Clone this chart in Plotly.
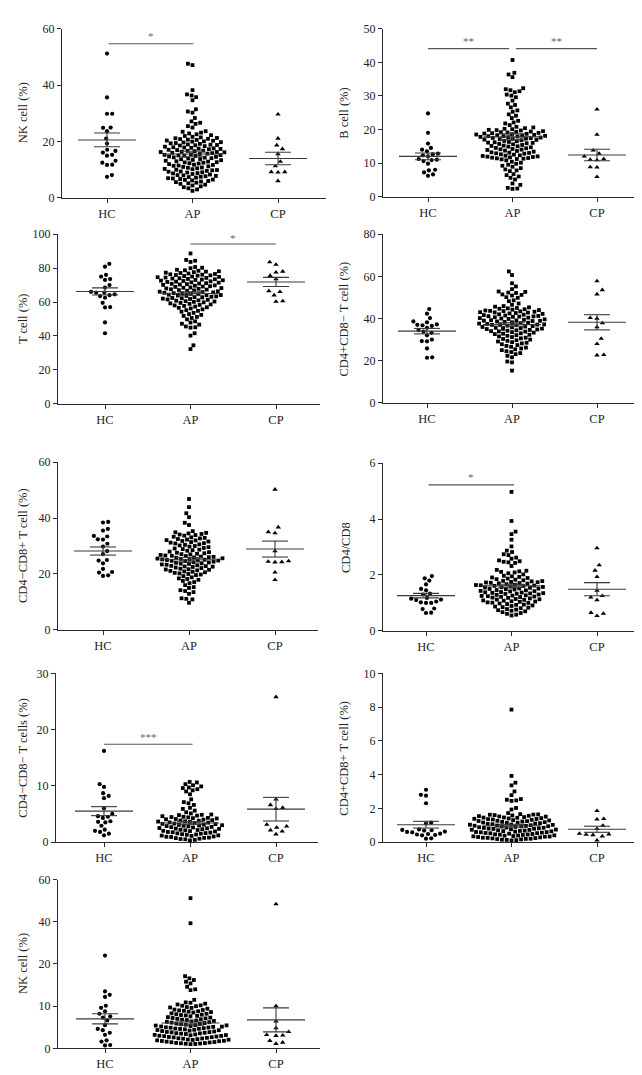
import numpy as np
import plotly.graph_objects as go

W, H = 642, 1075
groups = ["HC", "AP", "CP"]

# ---------------- data ----------------
nk_hc = [51.2, 35.6, 29.8, 29.8, 24.9, 24.8, 23.6, 21.0, 19.2, 17.0, 16.6, 16.0, 15.2, 14.9, 13.1, 12.4, 11.7, 11.6, 8.0, 7.4]
nk_ap = [47.6, 47.1, 38.2, 36.7, 36.3, 35.7, 34.6, 31.4, 30.6, 30.2, 28.3, 27.1, 26.6, 26.2, 25.4, 24.9,
         23.6, 23.4, 23.1, 22.8, 22.5, 22.2, 21.9, 21.6,
         21.4, 21.2, 21.1, 20.9, 20.8, 20.6, 20.5, 20.3, 20.2, 20.0,
         19.9, 19.7, 19.6, 19.4, 19.3, 19.1, 18.9, 18.8, 18.7,
         18.6, 18.5, 18.3, 18.1, 17.9, 17.8, 17.7, 17.5, 17.4,
         17.3, 17.2, 17.0, 16.9, 16.7, 16.6, 16.5, 16.3, 16.2, 16.2,
         16.1, 15.9, 15.8, 15.6, 15.5, 15.4, 15.2, 15.1, 14.9, 15.0,
         14.8, 14.6, 14.5, 14.3, 14.2, 14.0, 13.9, 13.7, 13.6,
         13.4, 13.3, 13.1, 12.9, 12.8, 12.6, 12.5, 12.4,
         12.2, 12.1, 11.9, 11.7, 11.6, 11.4, 11.3, 11.1,
         10.9, 10.7, 10.6, 10.4, 10.2, 10.1, 9.9, 9.8,
         9.7, 9.5, 9.3, 9.2, 9.0, 8.9, 8.7, 8.6,
         8.4, 8.2, 8.0, 7.9, 7.7, 7.6, 7.4, 7.3,
         7.1, 6.9, 6.8, 6.6, 6.4, 6.3, 6.1,
         5.9, 5.7, 5.5, 5.3, 5.1, 4.9, 4.6, 4.3, 4.0, 3.7, 3.3, 2.9, 2.4]
nk_cp = [29.6, 21.0, 18.6, 17.3, 15.5, 12.8, 11.2, 9.1, 9.1, 9.0, 5.9]
nk_mean = [20.5, 15.5, 13.9]
nk_sem = [2.45, 1.0, 2.2]

b_hc = [24.8, 19.0, 15.8, 14.5, 14.0, 13.5, 12.8, 12.6, 12.3, 12.0, 11.2, 11.0, 10.9, 10.6, 9.8, 8.0, 7.8, 7.2, 6.6, 6.2]
b_ap = [40.7, 36.9, 36.4, 35.6, 32.3, 32.0, 31.7, 31.4, 31.1, 30.4, 30.1, 29.6, 28.6, 27.7, 27.3, 26.6, 25.7,
        25.3, 24.5, 24.1, 23.4, 22.6, 22.1, 21.8, 21.3,
        20.8, 20.6, 20.4, 20.2, 20.1,
        19.9, 19.8, 19.7, 19.5, 19.4, 19.3, 19.2, 19.1, 19.0,
        18.9, 18.8, 18.7, 18.6, 18.5, 18.4, 18.3, 18.2, 18.1, 18.0, 18.0,
        17.9, 17.8, 17.7, 17.6, 17.5, 17.4, 17.3, 17.2, 17.1, 17.0,
        16.9, 16.8, 16.6, 16.5, 16.3, 16.2, 16.1, 16.0,
        15.9, 15.7, 15.6, 15.4, 15.2, 15.1, 15.0,
        14.9, 14.7, 14.5, 14.4, 14.2, 14.1, 14.0,
        13.9, 13.7, 13.6, 13.4, 13.2, 13.1, 13.0,
        12.9, 12.8, 12.6, 12.5, 12.3, 12.2, 12.1, 12.0,
        11.9, 11.8, 11.7, 11.6, 11.5, 11.4, 11.3, 11.2, 11.1,
        10.8, 10.4, 10.1, 9.8, 9.5, 9.2, 8.9, 8.5, 8.1, 7.8, 7.6, 6.7, 6.4, 6.0, 5.6, 5.1,
        3.9, 3.5, 2.6, 2.4, 2.3]
b_cp = [26.0, 18.5, 13.8, 12.8, 12.0, 11.2, 11.0, 10.9, 8.8, 8.7, 5.9]
b_mean = [12.0, 17.8, 12.4]
b_sem = [1.0, 0.9, 1.7]

t_hc = [82.5, 80.8, 76.0, 75.0, 73.5, 73.0, 70.0, 68.5, 66.0, 65.5, 65.5, 64.5, 64.0, 63.5, 62.5, 59.5, 57.0, 56.8, 48.0, 41.6]
t_ap = [88.6, 84.8, 84.3, 83.6, 80.6, 80.2, 79.9, 79.0, 78.7, 78.4, 78.1,
        77.9, 77.6, 77.3, 77.1, 76.8, 76.5, 76.3, 76.1,
        75.9, 75.7, 75.5, 75.3, 75.0, 74.8, 74.6, 74.4, 74.2, 74.0,
        73.8, 73.6, 73.4, 73.2, 73.0, 72.8, 72.6, 72.4, 72.2, 72.0,
        71.8, 71.6, 71.4, 71.1, 70.9, 70.7, 70.5, 70.3, 70.1,
        69.8, 69.6, 69.3, 69.1, 68.9, 68.6, 68.4, 68.2, 68.0,
        67.8, 67.5, 67.3, 67.0, 66.8, 66.6, 66.3, 66.1,
        65.9, 65.7, 65.4, 65.2, 65.0, 64.8, 64.6, 64.3, 64.1, 64.0,
        63.8, 63.6, 63.3, 63.1, 62.9, 62.7, 62.4, 62.2, 62.0,
        61.8, 61.5, 61.3, 61.0, 60.8, 60.5, 60.3, 60.1,
        59.8, 59.5, 59.2, 58.9, 58.6, 58.3, 58.0,
        57.7, 57.3, 56.9, 56.6, 56.2, 55.7, 55.2, 54.8, 54.3,
        53.6, 52.9, 52.4, 51.8, 51.2, 50.6, 49.8, 48.6, 47.9, 47.2, 46.7, 45.6, 45.1, 44.9,
        41.6, 40.2, 34.5, 32.3]
t_cp = [83.5, 82.0, 78.0, 77.5, 75.5, 73.5, 66.5, 66.0, 64.0, 60.5, 60.2]
t_mean = [66.2, 65.0, 71.8]
t_sem = [2.1, 1.0, 2.7]

cd4_hc = [44.5, 42.3, 40.2, 38.6, 38.2, 37.2, 37.0, 36.8, 36.5, 35.6, 34.5, 33.8, 33.2, 32.0, 30.0, 29.3, 29.2, 25.8, 21.6, 21.4]
cd4_ap = [62.3, 60.6, 56.7, 55.2, 53.9, 52.8, 52.6, 52.3, 52.1, 51.4, 51.2, 50.9, 50.1, 49.8, 48.6, 48.2, 47.1, 46.5,
          45.9, 45.6, 45.3, 45.0, 44.8, 44.6, 44.4, 44.2, 44.0,
          43.8, 43.6, 43.5, 43.4, 43.2, 43.0, 42.9, 42.8, 42.6, 42.4, 42.2, 42.0,
          41.8, 41.6, 41.4, 41.2, 41.1, 41.0, 40.9, 40.8, 40.6, 40.4, 40.2, 40.0,
          39.8, 39.6, 39.4, 39.2, 39.1, 39.0, 38.9, 38.8, 38.6, 38.4, 38.2, 38.0,
          37.8, 37.6, 37.4, 37.2, 37.1, 37.0, 36.9, 36.8, 36.6, 36.4, 36.2, 36.0,
          35.8, 35.6, 35.4, 35.2, 35.1, 35.0, 34.8, 34.6, 34.4, 34.2, 34.0,
          33.9, 33.8, 33.5, 33.3, 33.0, 32.8, 32.6, 32.3, 32.1,
          31.8, 31.5, 31.2, 30.9, 30.6, 30.3, 30.0,
          29.7, 29.4, 29.1, 28.8, 28.5, 28.2,
          27.8, 27.4, 27.0, 26.6, 26.2,
          25.8, 25.4, 25.0, 24.5, 24.1, 23.6, 23.1, 22.3, 21.6, 19.6, 19.2, 15.3]
cd4_cp = [57.7, 53.5, 51.5, 40.3, 40.0, 37.8, 35.9, 30.5, 28.0, 22.8, 22.6]
cd4_mean = [34.0, 37.1, 38.2]
cd4_sem = [1.3, 0.9, 3.6]

cd8_hc = [38.6, 38.4, 36.1, 35.5, 33.6, 33.4, 32.4, 32.3, 30.8, 29.8, 28.2, 27.1, 25.0, 24.8, 23.8, 21.8, 20.7, 20.5, 19.5, 19.3]
cd8_ap = [46.8, 43.9, 41.7, 40.3, 38.3, 37.5, 35.3,
          34.9, 34.7, 34.5, 34.3, 34.1, 33.9, 33.7,
          33.3, 33.1, 32.9, 32.7, 32.5, 32.3, 32.1, 32.0,
          31.8, 31.6, 31.4, 31.2, 31.0, 30.9,
          30.6, 30.4, 30.2, 30.0, 29.8, 29.6,
          29.3, 29.1, 28.9, 28.7, 28.5, 28.3,
          28.0, 27.8, 27.6, 27.4, 27.2, 27.1, 27.0,
          26.8, 26.6, 26.5, 26.4, 26.2, 26.1, 26.0, 25.9, 25.8,
          25.6, 25.5, 25.4, 25.3, 25.2, 25.1, 25.0, 24.9, 24.8, 24.7, 24.6,
          24.4, 24.2, 24.1, 24.0, 23.8, 23.7, 23.6, 23.4, 23.3,
          23.1, 22.9, 22.8, 22.7, 22.6, 22.5, 22.3, 22.1,
          21.9, 21.7, 21.6, 21.5, 21.3, 21.1, 20.9, 20.8,
          20.6, 20.4, 20.2, 20.0, 19.8, 19.6,
          19.2, 18.8, 18.4, 18.2, 17.9, 17.5, 17.1, 16.7, 16.0, 15.3, 15.0, 14.2, 13.9, 13.5, 12.9,
          11.3, 11.1, 10.9, 9.7]
cd8_cp = [50.2, 36.7, 35.0, 34.6, 28.2, 24.6, 24.4, 24.3, 24.2, 20.6, 17.9]
cd8_mean = [28.2, 25.1, 28.9]
cd8_sem = [1.45, 0.8, 2.85]

ratio_hc = [1.96, 1.88, 1.80, 1.66, 1.50, 1.45, 1.33, 1.30, 1.18, 1.15, 1.12, 1.10, 1.05, 1.02, 1.00, 1.00, 0.80, 0.78, 0.65, 0.64]
ratio_ap = [4.97, 3.93, 3.55, 3.46, 3.26, 3.02, 2.87, 2.82, 2.74, 2.71, 2.62, 2.58, 2.52, 2.49, 2.47, 2.45, 2.43,
            2.32, 2.18, 2.15, 2.13, 2.11, 2.09, 2.06, 2.02,
            1.97, 1.95, 1.93, 1.91, 1.89, 1.87, 1.85, 1.83, 1.81,
            1.79, 1.78, 1.77, 1.75, 1.74, 1.73, 1.72, 1.71, 1.70, 1.69,
            1.67, 1.65, 1.64, 1.63, 1.62, 1.61, 1.60, 1.58, 1.57, 1.56, 1.55,
            1.54, 1.52, 1.51, 1.50, 1.49, 1.48, 1.46, 1.45, 1.43, 1.42,
            1.41, 1.39, 1.38, 1.37, 1.36, 1.35, 1.34, 1.33, 1.32, 1.30,
            1.29, 1.27, 1.26, 1.25, 1.24, 1.23, 1.22, 1.21, 1.19, 1.18,
            1.16, 1.14, 1.13, 1.12, 1.11, 1.09, 1.08, 1.06, 1.05,
            1.04, 1.02, 1.01, 1.00, 0.98, 0.96, 0.94, 0.93,
            0.91, 0.89, 0.87, 0.85, 0.83, 0.81,
            0.78, 0.76, 0.74, 0.72, 0.70, 0.67, 0.64, 0.61, 0.58, 0.55]
ratio_cp = [2.96, 2.35, 2.16, 1.93, 1.44, 1.25, 1.20, 1.10, 0.65, 0.62, 0.54]
ratio_mean = [1.26, 1.61, 1.49]
ratio_sem = [0.08, 0.06, 0.235]

dn_hc = [16.2, 10.3, 9.8, 8.7, 8.2, 7.8, 6.0, 5.0, 4.6, 4.5, 4.3, 3.7, 3.6, 3.5, 2.9, 2.2, 2.0, 1.8, 1.5, 1.2]
dn_ap = [10.7, 10.6, 10.3, 10.1, 9.9, 9.7, 9.6, 9.4, 9.2, 9.0, 8.5, 7.6, 7.1, 6.9, 6.6, 6.1, 5.9, 5.6, 5.3, 5.1,
         4.9, 4.85, 4.8, 4.7, 4.6, 4.5, 4.45, 4.4,
         4.3, 4.25, 4.2, 4.1, 4.05, 4.0, 3.9, 3.85, 3.8,
         3.7, 3.65, 3.6, 3.5, 3.45, 3.4, 3.3, 3.25, 3.2,
         3.1, 3.05, 3.0, 2.95, 2.9, 2.85, 2.8, 2.7, 2.65, 2.6,
         2.5, 2.45, 2.4, 2.35, 2.3, 2.2, 2.15, 2.1, 2.0,
         1.95, 1.9, 1.8, 1.75, 1.7, 1.6, 1.55, 1.5, 1.4,
         1.35, 1.3, 1.2, 1.15, 1.1, 1.0, 0.95, 0.9, 0.8,
         0.75, 0.7, 0.6, 0.55, 0.5, 0.4, 0.3]
dn_cp = [25.8, 7.6, 6.6, 6.1, 5.9, 3.1, 2.8, 2.6, 2.1, 1.9, 1.4]
dn_mean = [5.5, 3.4, 5.85]
dn_sem = [0.8, 0.25, 2.1]

dp_hc = [3.1, 2.8, 2.75, 2.3, 1.15, 1.1, 0.75, 0.72, 0.7, 0.68, 0.62, 0.6, 0.58, 0.5, 0.48, 0.45, 0.42, 0.4, 0.22, 0.2]
dp_ap = [7.85, 3.92, 3.52, 3.36, 3.0, 2.78, 2.55, 2.51, 2.47, 2.44, 2.02, 1.93, 1.72,
         1.66, 1.64, 1.63, 1.62, 1.60, 1.58, 1.56, 1.54, 1.52, 1.51,
         1.48, 1.46, 1.45, 1.44, 1.42, 1.40, 1.38, 1.37, 1.36, 1.34, 1.32, 1.30,
         1.28, 1.26, 1.25, 1.24, 1.22, 1.20, 1.18, 1.16, 1.15, 1.14, 1.12, 1.10,
         1.08, 1.06, 1.04, 1.03, 1.02, 1.00, 0.98, 0.97, 0.96, 0.94, 0.93, 0.92, 0.90,
         0.88, 0.86, 0.85, 0.84, 0.82, 0.80, 0.79, 0.78, 0.76, 0.74, 0.73, 0.72, 0.70,
         0.68, 0.66, 0.65, 0.64, 0.62, 0.60, 0.59, 0.58, 0.56, 0.54, 0.53, 0.52, 0.50,
         0.48, 0.46, 0.45, 0.44, 0.42, 0.40, 0.39, 0.38, 0.36, 0.34, 0.33, 0.32, 0.30,
         0.28, 0.26, 0.25, 0.24, 0.22, 0.20, 0.19, 0.18, 0.16, 0.14, 0.13, 0.12, 0.10]
dp_cp = [1.85, 1.38, 1.35, 0.98, 0.78, 0.5, 0.46, 0.44, 0.42, 0.35, 0.1]
dp_mean = [1.03, 0.97, 0.76]
dp_sem = [0.2, 0.08, 0.18]

nk2_hc = [24.0, 13.5, 12.7, 12.2, 10.1, 9.6, 8.8, 8.2, 7.6, 7.3, 6.6, 5.5, 4.6, 4.3, 3.7, 3.2, 1.9, 1.6, 0.8, 0.7]
nk2_ap = [51.2, 39.3, 17.1, 16.6, 16.2, 15.8, 15.4, 14.6, 14.0, 13.8, 11.5, 10.9, 10.8, 10.6,
          10.4, 10.2, 10.1, 10.0, 9.8, 9.7, 9.6, 9.4,
          9.2, 9.1, 9.0, 8.9, 8.8, 8.7, 8.6, 8.5,
          8.3, 8.2, 8.1, 8.0, 7.9, 7.8, 7.7, 7.6,
          7.4, 7.3, 7.2, 7.1, 7.0, 6.9, 6.8, 6.7,
          6.6, 6.5, 6.4, 6.3, 6.2, 6.1, 6.0, 5.9, 5.8,
          5.7, 5.6, 5.5, 5.45, 5.4, 5.3, 5.2, 5.15, 5.1, 5.0,
          4.95, 4.9, 4.8, 4.7, 4.65, 4.6, 4.5, 4.4, 4.35, 4.3, 4.2,
          4.1, 4.0, 3.9, 3.85, 3.8, 3.7, 3.6, 3.55, 3.5, 3.4, 3.3,
          3.2, 3.15, 3.1, 3.0, 2.95, 2.9, 2.8, 2.7, 2.65, 2.6, 2.5,
          2.4, 2.35, 2.3, 2.2, 2.1, 2.05, 2.0, 1.9, 1.8, 1.75, 1.7, 1.6,
          1.5, 1.45, 1.4, 1.3, 1.25, 1.2, 1.15, 1.1, 1.05, 1.0]
nk2_cp = [48.4, 10.0, 6.4, 4.8, 3.9, 3.2, 3.1, 3.0, 1.8, 1.4, 1.1]
nk2_mean = [7.0, 6.0, 6.75]
nk2_sem = [1.2, 0.5, 2.85]
nk2_ticks = [0, 10, 20, 40, 60]

# ---------------- panel configuration (layout only) ----------------
def ident(v):
    return np.asarray(v, dtype=float)

def broken(v):
    v = np.asarray(v, dtype=float)
    return np.where(v <= 20, v, 20 + (v - 20) / 2.0)

panels = [
    dict(title="NK cell (%)", data=(nk_hc, nk_ap, nk_cp), mean=nk_mean, sem=nk_sem,
         ticks=[0, 20, 40, 60], ymax=60, box=(54, 318, 14, 185), cats=(99, 270), tx=15,
         sig=[(0.02, 1.01, 54.7)], stars=[(0.51, 57.6, "*")]),
    dict(title="B cell (%)", data=(b_hc, b_ap, b_cp), mean=b_mean, sem=b_sem,
         ticks=[0, 10, 20, 30, 40, 50], ymax=50, box=(375, 641, 14, 184), cats=(420, 589), tx=336,
         sig=[(0.0, 0.96, 44.1), (1.04, 2.0, 44.1)], stars=[(0.48, 46.3, "**"), (1.52, 46.3, "**")]),
    dict(title="T cell (%)", data=(t_hc, t_ap, t_cp), mean=t_mean, sem=t_sem,
         ticks=[0, 20, 40, 60, 80, 100], ymax=100, box=(50, 312, 222, 394), cats=(97, 268), tx=15,
         sig=[(1.0, 2.0, 94.2)], stars=[(1.5, 98.0, "*")]),
    dict(title="CD4+CD8\u2212 T cell (%)", data=(cd4_hc, cd4_ap, cd4_cp), mean=cd4_mean, sem=cd4_sem,
         ticks=[0, 20, 40, 60, 80], ymax=80, box=(375, 633, 222, 393), cats=(419, 589), tx=336,
         sig=[], stars=[]),
    dict(title="CD4\u2212CD8+ T cell (%)", data=(cd8_hc, cd8_ap, cd8_cp), mean=cd8_mean, sem=cd8_sem,
         ticks=[0, 20, 40, 60], ymax=60, box=(50, 310, 453, 623), cats=(95, 267), tx=15,
         sig=[], stars=[]),
    dict(title="CD4/CD8", data=(ratio_hc, ratio_ap, ratio_cp), mean=ratio_mean, sem=ratio_sem,
         ticks=[0, 2, 4, 6], ymax=6, box=(375, 633, 454, 624), cats=(418, 589), tx=338,
         sig=[(0.03, 1.03, 5.22)], stars=[(0.53, 5.52, "*")]),
    dict(title="CD4\u2212CD8\u2212 T cells (%)", data=(dn_hc, dn_ap, dn_cp), mean=dn_mean, sem=dn_sem,
         ticks=[0, 10, 20, 30], ymax=30, box=(48, 310, 667, 838), cats=(96, 268), tx=15,
         sig=[(0.0, 1.03, 17.4)], stars=[(0.52, 18.7, "***")]),
    dict(title="CD4+CD8+ T cell (%)", data=(dp_hc, dp_ap, dp_cp), mean=dp_mean, sem=dp_sem,
         ticks=[0, 2, 4, 6, 8, 10], ymax=10, box=(375, 633, 667, 838), cats=(418, 589), tx=336,
         sig=[], stars=[]),
    dict(title="NK cell (%)", data=(nk2_hc, nk2_ap, nk2_cp), mean=nk2_mean, sem=nk2_sem,
         ticks=nk2_ticks, ymax=40, box=(50, 312, 876, 1047), cats=(97, 268), tx=15,
         sig=[], stars=[], tf=broken),
]

symbols = ["circle", "square", "triangle-up"]
msizes = [4.2, 3.8, 4.8]
spacing_px = [5.2, 4.8, 6.8]

FONT = "Liberation Serif"
AX = "#2a2a2a"


def swarm(ypx, D):
    ypx = np.asarray(ypx, dtype=float)
    order = np.argsort(ypx, kind="stable")
    xs = np.zeros(len(ypx))
    placed = []
    for i in order:
        y = ypx[i]
        neigh = [(px, py) for px, py in placed if abs(py - y) < D]
        cands = [0.0]
        for px, py in neigh:
            dx = np.sqrt(max(D * D - (py - y) ** 2, 0.0))
            cands += [px + dx, px - dx]
        cands.sort(key=lambda c: (round(abs(c), 6), -c if len(placed) % 2 else c))
        for c in cands:
            if all((c - px) ** 2 + (y - py) ** 2 >= D * D - 1e-6 for px, py in neigh):
                xs[i] = c
                break
        placed.append((xs[i], y))
    return xs


fig = go.Figure()
annotations = []
layout_axes = {}

for k, p in enumerate(panels):
    n = k + 1
    xa = "x" if n == 1 else f"x{n}"
    ya = "y" if n == 1 else f"y{n}"
    tf = p.get("tf", ident)
    x0, x1, yt, yb = p["box"]
    c0, c2 = p["cats"]
    sp = (c2 - c0) / 2.0          # px per category unit
    xr = [(x0 - c0) / sp, (x1 - c0) / sp]
    ppy = (yb - yt) / p["ymax"]   # px per y unit

    for g in range(3):
        vals = p["data"][g]
        tv = tf(vals)
        off = swarm(tv * ppy, spacing_px[g]) / sp
        fig.add_trace(go.Scatter(
            x=g + off, y=tv, mode="markers", xaxis=xa, yaxis=ya,
            marker=dict(symbol=symbols[g], size=msizes[g], color="#000000", line=dict(width=0)),
            cliponaxis=False, hoverinfo="skip", showlegend=False))

    # mean +/- SEM
    hw_m, hw_s = 29.0 / sp, 13.0 / sp
    lx, ly = [], []
    for g in range(3):
        m = float(tf([p["mean"][g]])[0])
        s_hi = float(tf([p["mean"][g] + p["sem"][g]])[0])
        s_lo = float(tf([p["mean"][g] - p["sem"][g]])[0])
        lx += [g - hw_m, g + hw_m, None, g - hw_s, g + hw_s, None, g - hw_s, g + hw_s, None, g, g, None]
        ly += [m, m, None, s_hi, s_hi, None, s_lo, s_lo, None, s_lo, s_hi, None]
    fig.add_trace(go.Scatter(x=lx, y=ly, mode="lines", xaxis=xa, yaxis=ya,
                             line=dict(color="#3a3a3a", width=1.1), hoverinfo="skip",
                             showlegend=False, cliponaxis=False))

    # significance bars
    for (a, b, yy) in p["sig"]:
        fig.add_trace(go.Scatter(x=[a, b], y=[yy, yy], mode="lines", xaxis=xa, yaxis=ya,
                                 line=dict(color="#555555", width=1.1), hoverinfo="skip",
                                 showlegend=False, cliponaxis=False))
    for (sx, sy, txt) in p["stars"]:
        annotations.append(dict(x=sx, y=sy, xref=xa, yref=ya, text=txt, showarrow=False,
                                font=dict(family=FONT, size=11, color="#666666"),
                                xanchor="center", yanchor="middle"))

    # y title
    annotations.append(dict(x=p["tx"] / W, y=1 - ((yt + yb) / 2.0) / H, xref="paper", yref="paper",
                            text=p["title"], textangle=-90, showarrow=False,
                            font=dict(family=FONT, size=12.5, color="#222222"),
                            xanchor="center", yanchor="middle"))

    tickpos = list(tf(p["ticks"]))
    layout_axes["xaxis" if n == 1 else f"xaxis{n}"] = dict(
        domain=[x0 / W, x1 / W], range=xr, anchor=ya, tickvals=[0, 1, 2], ticktext=groups,
        showline=True, linecolor=AX, linewidth=1, ticks="outside", ticklen=4, tickwidth=1,
        tickcolor=AX, showgrid=False, zeroline=False, fixedrange=True,
        tickfont=dict(family=FONT, size=12.5, color="#222222"))
    layout_axes["yaxis" if n == 1 else f"yaxis{n}"] = dict(
        domain=[1 - yb / H, 1 - yt / H], range=[0, p["ymax"]], anchor=xa,
        tickvals=tickpos, ticktext=[str(t) for t in p["ticks"]],
        showline=True, linecolor=AX, linewidth=1, ticks="outside", ticklen=4, tickwidth=1,
        tickcolor=AX, showgrid=False, zeroline=False, fixedrange=True,
        tickfont=dict(family=FONT, size=12, color="#222222"))

fig.update_layout(width=W, height=H, margin=dict(l=0, r=0, t=0, b=0),
                  paper_bgcolor="white", plot_bgcolor="white", showlegend=False,
                  annotations=annotations, **layout_axes)

fig.write_html("out.html", config={"displayModeBar": False})
